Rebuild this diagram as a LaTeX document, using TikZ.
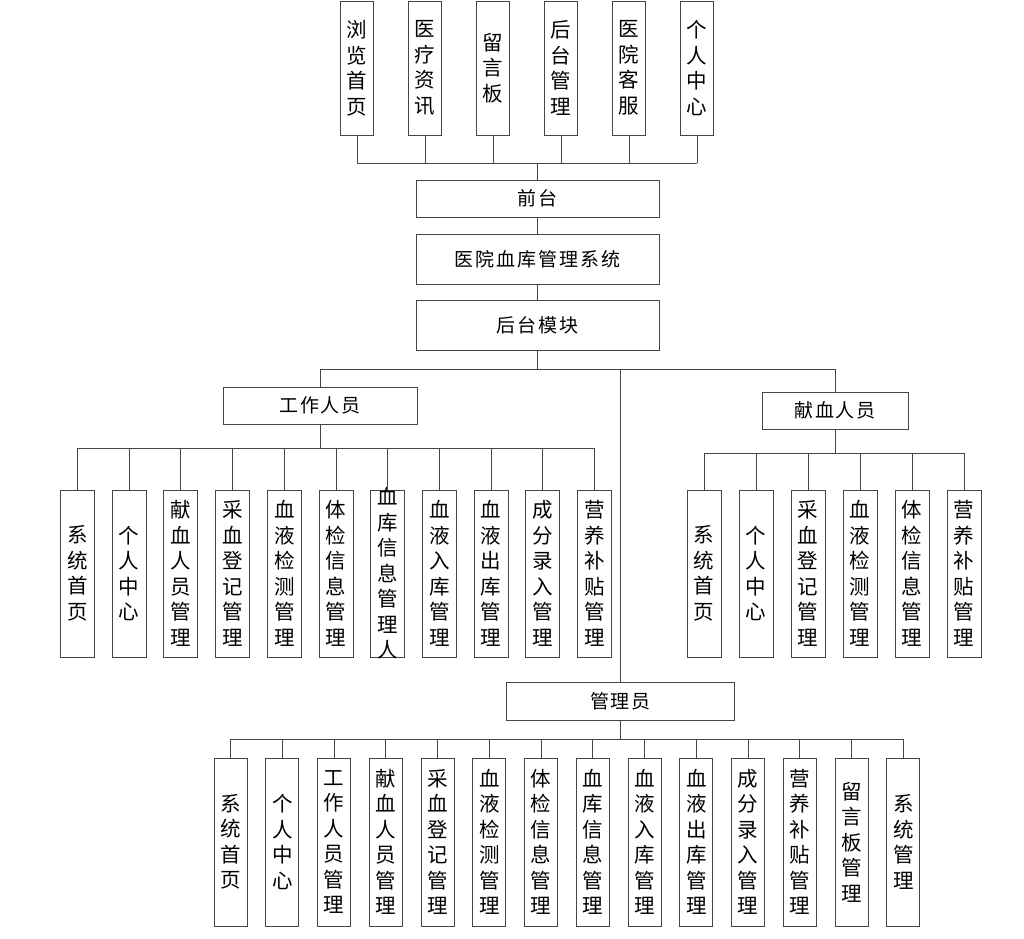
\documentclass[tikz,border=0pt]{standalone}
\usepackage{fontspec}
\newfontfamily\cjk{Noto Sans CJK SC}
\newfontfamily\cjkh[LetterSpace=10]{Noto Sans CJK SC}
\definecolor{lc}{RGB}{70,70,70}
\begin{document}
\begin{tikzpicture}[x=1pt,y=-1pt,
  box/.style={draw=lc, line width=0.9pt, inner sep=0pt, fill=white},
  vbox/.style={box, minimum width=34pt, minimum height=167pt},
  tbox/.style={box, minimum width=33pt, minimum height=134pt},
  abox/.style={box, minimum width=33pt, minimum height=168pt},
  vtext/.style={font=\cjk\fontsize{20.5}{25.5}\selectfont, align=center, inner sep=0pt},
  hbox/.style={box, font=\cjkh\fontsize{19}{22}\selectfont, text=black},
  conn/.style={draw=lc, line width=0.9pt}]
\useasboundingbox (0,0) rectangle (1024,938);

% ---------- top (front-end) boxes ----------
\foreach \i/\x/\t in {1/357/浏\\览\\首\\页, 2/425/医\\疗\\资\\讯, 3/493/留\\言\\板,
                       4/561/后\\台\\管\\理, 5/629/医\\院\\客\\服, 6/697/个\\人\\中\\心}{
  \node[tbox] (t\i) at (\x,68) {};
  \node[vtext] (tt\i) at (t\i.center) {\t};
}
\node[hbox, minimum width=243pt, minimum height=37pt] (qt) at (537.5,198.5) {前台};
\node[hbox, minimum width=243pt, minimum height=50pt] (sys) at (537.5,259) {医院血库管理系统};
\node[hbox, minimum width=243pt, minimum height=50pt] (hm) at (537.5,325) {后台模块};

\coordinate (tb) at (537.5,163);
\draw[conn] (t1.south |- tb) -- (t6.south |- tb);
\foreach \i in {1,...,6}{ \draw[conn] (t\i.south) -- (t\i.south |- tb); }
\draw[conn] (tb) -- (qt.north);
\draw[conn] (qt.south) -- (sys.north);
\draw[conn] (sys.south) -- (hm.north);

% ---------- second level ----------
\node[hbox, minimum width=194pt, minimum height=37pt] (wk) at (320,405.5) {工作人员};
\node[hbox, minimum width=146pt, minimum height=37pt] (dn) at (835,410.5) {献血人员};
\node[hbox, minimum width=228pt, minimum height=38pt] (ad) at (620.5,701) {管理员};

\coordinate (mb) at (537.5,369);
\draw[conn] (hm.south) -- (mb);
\draw[conn] (wk.north |- mb) -- (dn.north |- mb);
\draw[conn] (wk.north |- mb) -- (wk.north);
\draw[conn] (dn.north |- mb) -- (dn.north);
\draw[conn] (ad.north |- mb) -- (ad.north);

% ---------- worker boxes ----------
\foreach \i/\t in {1/系\\统\\首\\页, 2/个\\人\\中\\心, 3/献\\血\\人\\员\\管\\理,
  4/采\\血\\登\\记\\管\\理, 5/血\\液\\检\\测\\管\\理, 6/体\\检\\信\\息\\管\\理,
  7/血\\库\\信\\息\\管\\理\\人, 8/血\\液\\入\\库\\管\\理, 9/血\\液\\出\\库\\管\\理,
  10/成\\分\\录\\入\\管\\理, 11/营\\养\\补\\贴\\管\\理}{
  \node[vbox] (w\i) at ({77.5+51.7*(\i-1)},573.5) {};
  \node[vtext] (wt\i) at (w\i.center) {\t};
}
\coordinate (wb) at (320,448);
\draw[conn] (w1.north |- wb) -- (w11.north |- wb);
\draw[conn] (wk.south) -- (wb);
\foreach \i in {1,...,11}{ \draw[conn] (w\i.north) -- (w\i.north |- wb); }

% ---------- donor boxes ----------
\foreach \i/\t in {1/系\\统\\首\\页, 2/个\\人\\中\\心, 3/采\\血\\登\\记\\管\\理,
  4/血\\液\\检\\测\\管\\理, 5/体\\检\\信\\息\\管\\理, 6/营\\养\\补\\贴\\管\\理}{
  \node[vbox] (d\i) at ({704+52*(\i-1)},573.5) {};
  \node[vtext] (dt\i) at (d\i.center) {\t};
}
\coordinate (db) at (835,453);
\draw[conn] (d1.north |- db) -- (d6.north |- db);
\draw[conn] (dn.south) -- (db);
\foreach \i in {1,...,6}{ \draw[conn] (d\i.north) -- (d\i.north |- db); }

% ---------- admin boxes ----------
\foreach \i/\t in {1/系\\统\\首\\页, 2/个\\人\\中\\心, 3/工\\作\\人\\员\\管\\理,
  4/献\\血\\人\\员\\管\\理, 5/采\\血\\登\\记\\管\\理, 6/血\\液\\检\\测\\管\\理,
  7/体\\检\\信\\息\\管\\理, 8/血\\库\\信\\息\\管\\理, 9/血\\液\\入\\库\\管\\理,
  10/血\\液\\出\\库\\管\\理, 11/成\\分\\录\\入\\管\\理, 12/营\\养\\补\\贴\\管\\理,
  13/留\\言\\板\\管\\理, 14/系\\统\\管\\理}{
  \node[abox] (a\i) at ({230.5+51.75*(\i-1)},842) {};
  \node[vtext] (at\i) at (a\i.center) {\t};
}
\coordinate (ab) at (620.5,739);
\draw[conn] (a1.north |- ab) -- (a14.north |- ab);
\draw[conn] (ad.south) -- (ab);
\foreach \i in {1,...,14}{ \draw[conn] (a\i.north) -- (a\i.north |- ab); }
\end{tikzpicture}
\end{document}
